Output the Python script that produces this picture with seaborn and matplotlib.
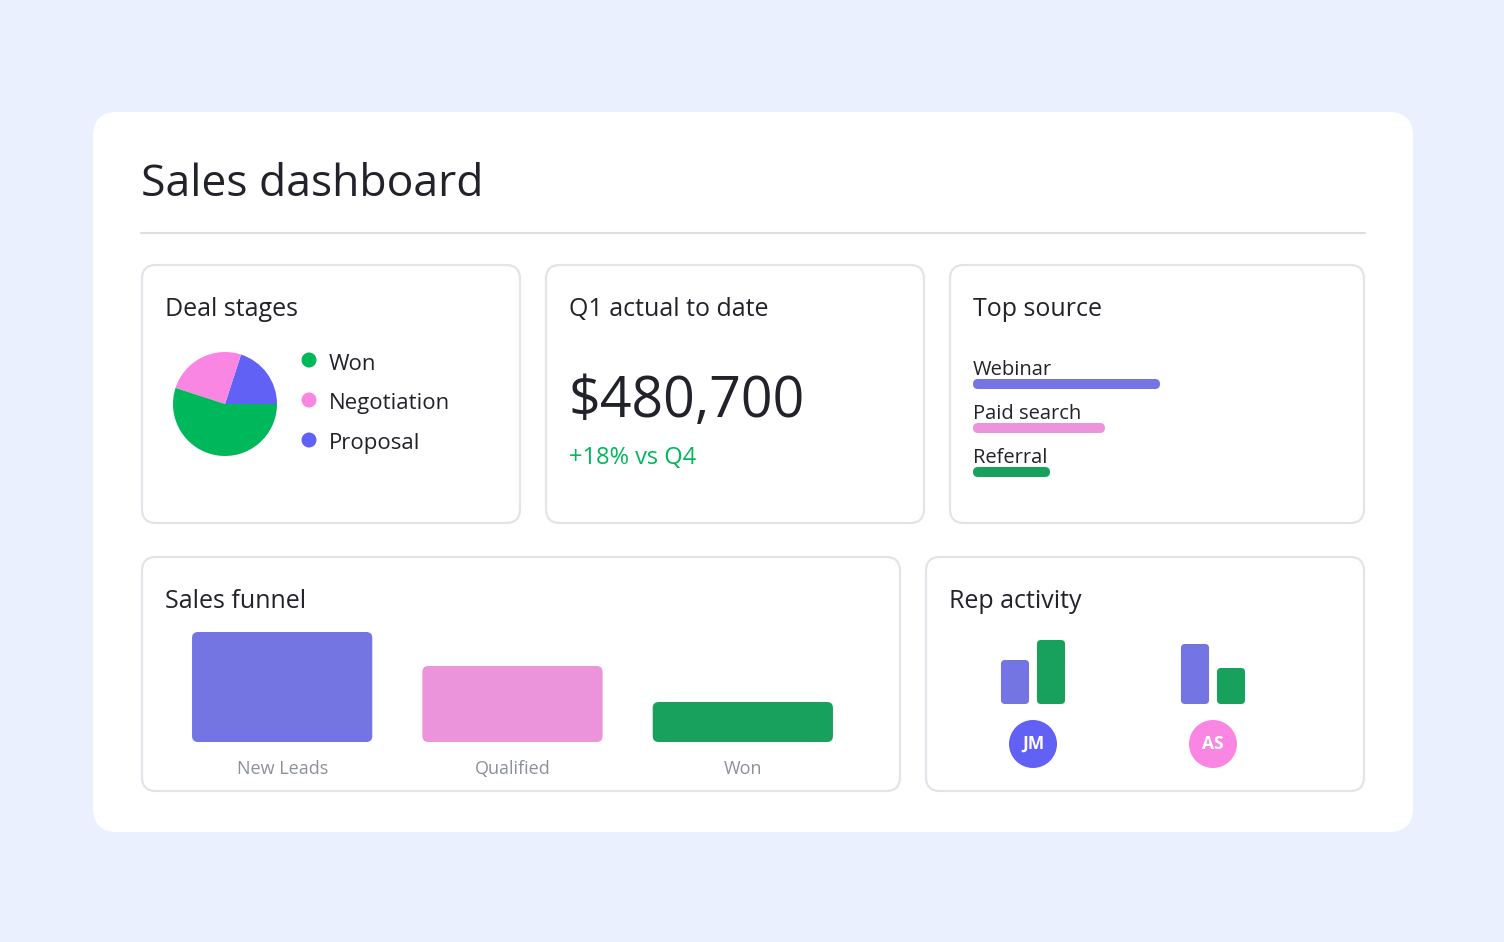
import matplotlib
matplotlib.use("Agg")
import matplotlib.pyplot as plt
from matplotlib.patches import FancyBboxPatch, Circle
import seaborn as sns
import pandas as pd

# ---- data ----
stage_names = ["Proposal", "Negotiation", "Won"]
stage_share = [20, 25, 55]
legend_order = ["Won", "Negotiation", "Proposal"]

q1_total = "$480,700"
q1_change = "+18% vs Q4"

sources = ["Webinar", "Paid search", "Referral"]
source_values = [187, 132, 77]

funnel_stages = ["New Leads", "Qualified", "Won"]
funnel_values = [110, 76, 40]

reps = ["JM", "JM", "AS", "AS"]
rep_metric = ["Calls", "Meetings", "Calls", "Meetings"]
rep_values = [44, 64, 60, 36]
rep_initials = ["JM", "AS"]

BLUE = "#6161F5"
PINK = "#FA86E4"
GREEN = "#00B85C"
stage_colors = {"Won": GREEN, "Negotiation": PINK, "Proposal": BLUE}
TXT = "#22232A"

W, H = 1504, 942
sns.set_theme(style="white")
plt.rcParams["font.family"] = ["Open Sans", "DejaVu Sans"]

fig = plt.figure(figsize=(W / 100, H / 100), dpi=100)
fig.patch.set_facecolor("#EAF0FD")


def add_ax(x0, y0, x1, y1, z=1):
    ax = fig.add_axes([x0 / W, 1 - y1 / H, (x1 - x0) / W, (y1 - y0) / H])
    ax.set_zorder(z)
    ax.patch.set_alpha(0)
    return ax


# background layer in pixel coords
bg = add_ax(0, 0, W, H, z=0)
bg.set_xlim(0, W)
bg.set_ylim(H, 0)
bg.axis("off")
bg.add_patch(FancyBboxPatch((93, 112), 1320, 720, boxstyle="round,pad=0,rounding_size=24",
                            fc="white", ec="none"))
bg.plot([141, 1365], [233, 233], color="#DCDEE3", lw=1.5)
bg.text(141, 185, "Sales dashboard", fontsize=32, color=TXT, va="center")

panels = [(142, 265, 520, 523, "Deal stages"), (546, 265, 924, 523, "Q1 actual to date"),
          (950, 265, 1364, 523, "Top source"), (142, 557, 900, 791, "Sales funnel"),
          (926, 557, 1364, 791, "Rep activity")]
for x0, y0, x1, y1, t in panels:
    bg.add_patch(FancyBboxPatch((x0, y0), x1 - x0, y1 - y0, boxstyle="round,pad=0,rounding_size=14",
                                fc="white", ec="#E2E4E9", lw=1.6))
    bg.text(x0 + 23, y0 + 44, t, fontsize=18, color=TXT, va="center")

# overlay for rounded bars
ov = add_ax(0, 0, W, H, z=3)
ov.set_xlim(0, W)
ov.set_ylim(H, 0)
ov.axis("off")


def round_bars(ax, r):
    fig.canvas.draw()
    for p in list(ax.patches):
        bb = p.get_window_extent()
        if bb.width <= 0 or bb.height <= 0:
            continue
        x0, x1 = bb.x0, bb.x1
        y0, y1 = H - bb.y1, H - bb.y0
        rr = min(r, (x1 - x0) / 2, (y1 - y0) / 2)
        ov.add_patch(FancyBboxPatch((x0, y0), x1 - x0, y1 - y0,
                                    boxstyle=f"round,pad=0,rounding_size={rr}",
                                    fc=p.get_facecolor(), ec="none"))
        p.remove()


# Deal stages pie
pax = add_ax(173, 352, 277, 456)
pax.pie(stage_share, colors=[stage_colors[s] for s in stage_names], startangle=0,
        counterclock=True, wedgeprops=dict(lw=0))
pax.set_xlim(-1, 1)
pax.set_ylim(-1, 1)
for i, name in enumerate(legend_order):
    y = 360 + 40 * i
    bg.add_patch(Circle((309, y), 7.5, fc=stage_colors[name], ec="none"))
    bg.text(329, y + 4, name, fontsize=16, color=TXT, va="center")

# Q1 KPI
bg.text(568, 402, q1_total, fontsize=40, color=TXT, va="center")
bg.text(569, 458, q1_change, fontsize=17, color=GREEN, va="center")

# Top source
sax = add_ax(973, 362, 1173, 494)
src_df = pd.DataFrame({"source": sources, "value": source_values})
sns.barplot(data=src_df, y="source", x="value", hue="source",
            palette=[BLUE, PINK, GREEN], width=10 / 44, legend=False, ax=sax)
sax.set_xlim(0, 200)
sax.set_ylim(2.5, -0.5)
sax.axis("off")
for i, s in enumerate(sources):
    sax.text(0, i - 0.2, s, fontsize=14.5, color=TXT, va="baseline", ha="left")

# Sales funnel
fax = add_ax(167, 622, 858, 742)
fun_df = pd.DataFrame({"stage": funnel_stages, "value": funnel_values})
sns.barplot(data=fun_df, x="stage", y="value", hue="stage",
            palette=[BLUE, PINK, GREEN], width=180 / 230, legend=False, ax=fax)
fax.set_ylim(0, 120)
fax.set_xlim(-0.5, 2.5)
for s in fax.spines.values():
    s.set_visible(False)
fax.set_yticks([])
fax.set_xlabel("")
fax.set_ylabel("")
fax.tick_params(axis="x", length=0, pad=13, labelsize=13, labelcolor="#8B9099")

# Rep activity
rax = add_ax(943, 634, 1303, 704)
rep_df = pd.DataFrame({"rep": reps, "metric": rep_metric, "value": rep_values})
sns.barplot(data=rep_df, x="rep", y="value", hue="metric", palette=[BLUE, GREEN],
            width=0.4, gap=0.22, legend=False, ax=rax)
rax.set_ylim(0, 70)
rax.set_xlim(-0.5, 1.5)
rax.axis("off")
for i, (ini, col) in enumerate(zip(rep_initials, [BLUE, PINK])):
    cx = 1033 + 180 * i
    bg.add_patch(Circle((cx, 744), 24, fc=col, ec="none"))
    bg.text(cx, 744, ini, fontsize=12.5, color="white", fontweight="bold", ha="center", va="center")

round_bars(sax, 5)
round_bars(fax, 6)
round_bars(rax, 4)

fig.savefig("out.png", dpi=100, facecolor=fig.get_facecolor())
